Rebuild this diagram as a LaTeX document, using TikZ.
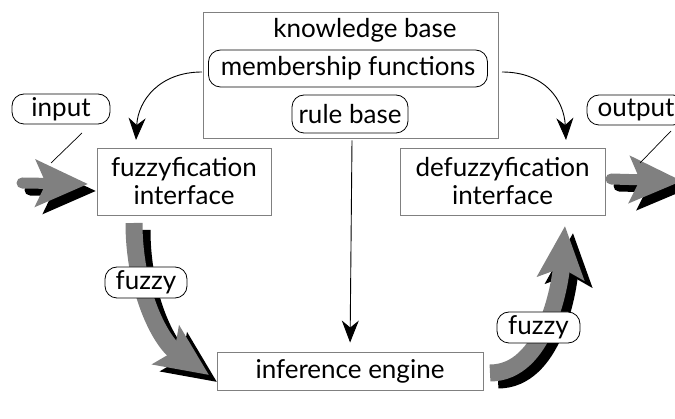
\documentclass[tikz,border=0pt]{standalone}
\usepackage{fontspec}
\setmainfont{Lato}
\usetikzlibrary{arrows.meta,calc}
\begin{document}
\begin{tikzpicture}[x=1pt,y=-1pt,
  txt/.style={font=\fontsize{26}{28}\selectfont},
  panel/.style={txt, draw=black!50, line width=0.9pt, fill=white, inner sep=0pt, align=center},
  tag/.style={txt, draw=black, line width=0.8pt, fill=white, rounded corners=12pt, inner sep=0pt},
  thin/.style={line width=0.9pt, -{Stealth[length=22pt,width=17pt,inset=7pt]}},
  pointer/.style={line width=0.7pt},
  fatarrow/.style={line width=#1, -{Stealth[length=52pt,width=46pt,inset=10pt]}},
  fatarrow/.default=17pt,
  flow/.style={fatarrow=#1, draw=black!50},
  flow/.default=17pt,
  flowshadow/.style={fatarrow=#1, draw=black},
  flowshadow/.default=17pt]
\useasboundingbox (0,0) rectangle (675,419);

% knowledge base panel with its two entries
\node[panel, minimum width=295pt, minimum height=126pt] (kb) at (350.5,75) {};
\node[txt] (kbtitle) at (365,30) {knowledge base};
\node[tag, minimum width=279pt, minimum height=37pt] (mf) at (348,68.5) {membership functions};
\node[tag, minimum width=116pt, minimum height=38pt] (rb) at (350,114) {rule base};

% processing stages
\node[panel, minimum width=174pt, minimum height=67pt] (fuzz) at (184,181.5) {fuzzyfication\\interface};
\node[panel, minimum width=205pt, minimum height=67pt] (defuzz) at (502.5,181.5) {defuzzyfication\\interface};
\node[panel, minimum width=266pt, minimum height=38pt] (inf) at (350,371) {inference engine};

% end points of the data flows
\coordinate (inStart) at (22,183);
\coordinate (inTip) at (88,184);
\coordinate (outStart) at (611,179);
\coordinate (outTip) at (682,181);
\coordinate (fzStart) at (134,223);
\coordinate (fzTip) at (209,375);
\coordinate (dfStart) at (490,373);
\coordinate (dfTip) at (565,226);

% shadows of the data flows, offset down and to the right
\draw[flowshadow=11pt, line cap=round] ($(inStart)+(8,7)$) -- ($(inTip)+(8,7)$);
\draw[flowshadow=11pt, line cap=round] ($(outStart)+(8,7)$) -- ($(outTip)+(8,7)$);
\draw[flowshadow] ($(fzStart)+(8,7)$) .. controls (142,297) and (168,348) .. ($(fzTip)+(8,7)$);
\draw[flowshadow] ($(dfStart)+(8,7)$) .. controls (553,380) and (568,293) .. ($(dfTip)+(8,7)$);

% data flows
\draw[flow=11pt, line cap=round] (inStart) -- (inTip);
\draw[flow=11pt, line cap=round] (outStart) -- (outTip);
\draw[flow] (fzStart) .. controls (134,290) and (160,341) .. (fzTip);
\draw[flow] (dfStart) .. controls (545,373) and (560,286) .. (dfTip);

% flow labels
\node[tag, minimum width=98pt, minimum height=30pt] (input) at (61,109) {input};
\node[tag, minimum width=98pt, minimum height=30pt] (output) at (636,110) {output};
\node[tag, minimum width=82pt, minimum height=31pt] (fuzzyA) at (146,282.5) {fuzzy};
\node[tag, minimum width=83pt, minimum height=31pt] (fuzzyB) at (538.5,327.5) {fuzzy};

\coordinate (inPtrA) at (82,133);
\coordinate (inPtrB) at (51,163);
\coordinate (outPtrA) at (671,131);
\coordinate (outPtrB) at (640,163);
\draw[pointer] (inPtrA) -- (inPtrB);
\draw[pointer] (outPtrA) -- (outPtrB);

% knowledge base feeds the stages
\coordinate (kbL) at (202,72);
\coordinate (kbR) at (502,72);
\coordinate (fuzzIn) at (136,140);
\coordinate (defuzzIn) at (566,140);
\draw[thin] (kbL) .. controls (160,72) and (138,100) .. (fuzzIn);
\draw[thin] (kbR) .. controls (545,72) and (564,100) .. (defuzzIn);
\draw[thin, shorten >=9pt] (kb.south) ++(1.5,2) -- (inf.north);
\end{tikzpicture}
\end{document}
